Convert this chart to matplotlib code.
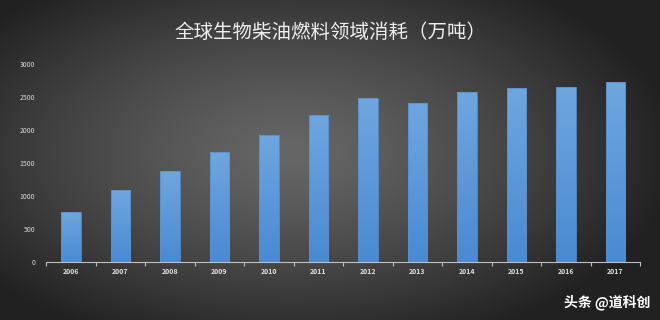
import numpy as np
import matplotlib.pyplot as plt
from matplotlib.colors import LinearSegmentedColormap

plt.rcParams['font.family'] = ['Noto Sans CJK SC', 'DejaVu Sans']

years = ['2006', '2007', '2008', '2009', '2010', '2011',
         '2012', '2013', '2014', '2015', '2016', '2017']
consumption = [765, 1090, 1385, 1670, 1925, 2230,
               2480, 2405, 2570, 2630, 2655, 2725]
yticks = [0, 500, 1000, 1500, 2000, 2500, 3000]
title = '全球生物柴油燃料领域消耗（万吨）'
watermark = '头条 @道科创'

fig = plt.figure(figsize=(6.6, 3.2), dpi=100)

# radial dark background, a bit lighter left of centre
bg = fig.add_axes([0, 0, 1, 1])
xx, yy = np.meshgrid(np.linspace(-1, 1, 660), np.linspace(-1, 1, 320))
r = np.sqrt(((xx + 0.12) / 1.0) ** 2 + ((yy + 0.05) / 1.1) ** 2)
light = np.clip(0.40 - 0.22 * r ** 1.3, 0.13, 1)
bg.imshow(np.dstack([light] * 3), aspect='auto', extent=[0, 1, 0, 1])
bg.set_axis_off()

ax = fig.add_axes([0.07, 0.181, 0.9, 0.619])
ax.patch.set_alpha(0)
x = np.arange(len(years))
bars = ax.bar(x, consumption, width=0.39, color='none',
              edgecolor='#5a8fc8', linewidth=0.6, zorder=2)

cmap = LinearSegmentedColormap.from_list('bar', ['#4a8ad2', '#6fa6df'])
grad = np.linspace(0, 1, 256).reshape(-1, 1)
for b in bars:
    bx, by = b.get_x(), b.get_y()
    w, h = b.get_width(), b.get_height()
    im = ax.imshow(grad, cmap=cmap, aspect='auto', origin='lower',
                   extent=[bx, bx + w, by, by + h], zorder=1)
    im.set_clip_path(b)

ax.set_xlim(-0.5, len(years) - 0.5)
ax.set_ylim(0, 3000)
ax.set_yticks(yticks)
ax.set_yticklabels([str(v) for v in yticks], fontsize=5, color='#d8d8d8')
ax.tick_params(axis='y', length=0, pad=8)

ax.set_xticks(np.arange(-0.5, len(years), 1.0))
ax.set_xticklabels([])
ax.tick_params(axis='x', which='major', length=3, color='#bfbfbf', direction='out')
ax.set_xticks(x, minor=True)
ax.set_xticklabels(years, minor=True, fontsize=5, color='#e0e0e0', fontweight='bold')
ax.tick_params(axis='x', which='minor', length=0, pad=4)

for s in ['top', 'right', 'left']:
    ax.spines[s].set_visible(False)
ax.spines['bottom'].set_color('#bfbfbf')
ax.spines['bottom'].set_linewidth(0.8)

fig.text(0.5, 0.9, title, ha='center', va='center', fontsize=14, color='#eeeeee')
fig.text(0.985, 0.055, watermark, ha='right', va='center', fontsize=10,
         color='white', fontweight='bold')

fig.savefig('out.png', dpi=100)
